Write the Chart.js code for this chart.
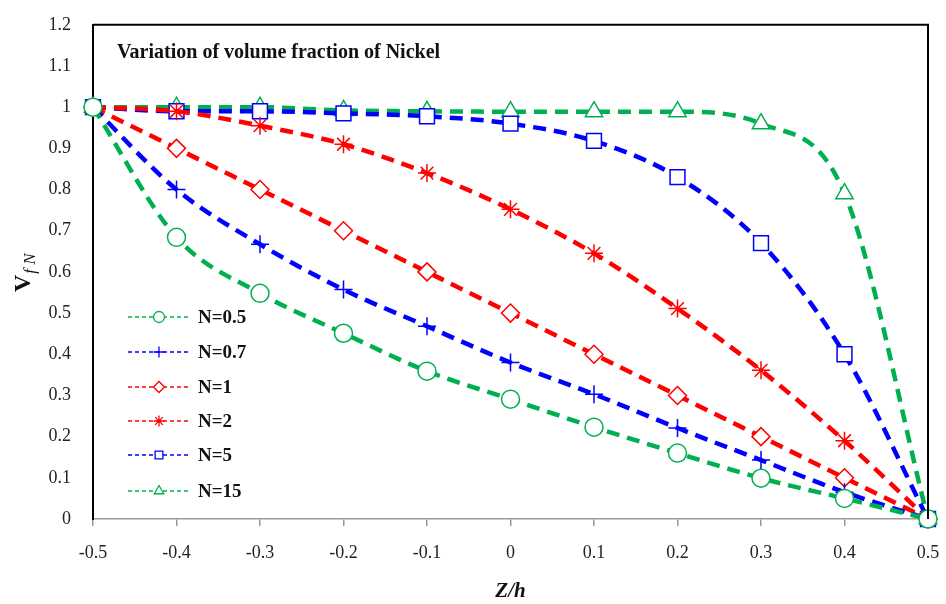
<!DOCTYPE html>
<html>
<head>
<meta charset="utf-8">
<script src="https://cdn.jsdelivr.net/npm/chart.js@4.4.1/dist/chart.umd.min.js"></script>
<style>
  html, body { margin: 0; padding: 0; background: #fff; }
  #wrap { width: 946px; height: 604px; }
</style>
</head>
<body>
<div id="wrap"><canvas id="vfChart" width="946" height="604"></canvas></div>
<script>
// positions through the thickness, z/h
const zh = [-0.5, -0.4, -0.3, -0.2, -0.1, 0, 0.1, 0.2, 0.3, 0.4, 0.5];

// volume fraction of nickel
const vN05 = [1, 0.684, 0.548, 0.451, 0.359, 0.291, 0.223, 0.160, 0.099, 0.050, 0];
const vN07 = [1, 0.800, 0.667, 0.557, 0.468, 0.380, 0.303, 0.221, 0.143, 0.065, 0];
const vN1  = [1, 0.9, 0.8, 0.7, 0.6, 0.5, 0.4, 0.3, 0.2, 0.1, 0];
const vN2  = [1, 0.99, 0.955, 0.91, 0.84, 0.752, 0.645, 0.511, 0.361, 0.19, 0];
const vN5  = [1, 0.99, 0.99, 0.985, 0.978, 0.96, 0.918, 0.83, 0.67, 0.40, 0];
const vN15 = [1, 1.0, 1.0, 0.992, 0.99, 0.989, 0.989, 0.989, 0.96, 0.79, 0];

const seriesLabels = ['N=0.5', 'N=0.7', 'N=1', 'N=2', 'N=5', 'N=15'];

const GREEN = '#00b050';
const BLUE = '#0000ff';
const RED = '#ff0000';
const SERIF = '"Liberation Serif", "DejaVu Serif", serif';

function toPoints(vals) {
    return zh.map((z, i) => ({ x: z, y: vals[i] }));
}

function makeSet(label, vals, color, marker, radius) {
    return {
        label: label,
        data: toPoints(vals),
        borderColor: color,
        borderWidth: 4.5,
        borderDash: [13, 8],
        pointStyle: marker,
        pointRadius: radius,
        pointHoverRadius: radius,
        pointBorderColor: color,
        pointBackgroundColor: '#fff',
        pointBorderWidth: 1.5,
        cubicInterpolationMode: 'monotone',
        fill: false,
        clip: false
    };
}

// frame on top + right of the plot area
const framePlugin = {
    id: 'frame',
    afterDraw(chart) {
        const { ctx, chartArea: a } = chart;
        ctx.save();
        ctx.strokeStyle = '#000';
        ctx.lineWidth = 2;
        ctx.beginPath();
        ctx.moveTo(a.left, a.top);
        ctx.lineTo(a.right, a.top);
        ctx.lineTo(a.right, a.bottom);
        ctx.stroke();
        ctx.restore();
    }
};

// title inside plot, y axis label with subscript, and the line+marker legend
const textPlugin = {
    id: 'texts',
    afterDraw(chart) {
        const ctx = chart.ctx;
        ctx.save();
        ctx.fillStyle = '#111';
        ctx.font = 'bold 20px ' + SERIF;
        ctx.textBaseline = 'middle';
        ctx.textAlign = 'left';
        ctx.fillText('Variation of volume fraction of Nickel', 117, 53, 330);

        // V_fN rotated
        ctx.save();
        ctx.translate(30, 270);
        ctx.rotate(-Math.PI / 2);
        ctx.textBaseline = 'alphabetic';
        ctx.font = 'bold 24px ' + SERIF;
        const vw = ctx.measureText('V').width;
        ctx.fillText('V', -22, 0);
        ctx.font = 'italic 17px ' + SERIF;
        ctx.fillText('f N', -22 + vw + 1, 5);
        ctx.restore();

        // legend
        const rows = [317, 352, 387, 421, 455, 491];
        chart.data.datasets.forEach((ds, i) => {
            const y = rows[i];
            ctx.save();
            ctx.strokeStyle = ds.borderColor;
            ctx.lineWidth = 1.5;
            ctx.setLineDash([4, 3]);
            ctx.beginPath();
            ctx.moveTo(128, y);
            ctx.lineTo(191, y);
            ctx.stroke();
            ctx.setLineDash([]);
            ctx.fillStyle = '#fff';
            ctx.strokeStyle = ds.borderColor;
            ctx.lineWidth = 1.3;
            Chart.helpers.drawPoint(ctx, { pointStyle: ds.pointStyle, radius: 5.5, rotation: 0, borderWidth: 1.3 }, 159, y);
            ctx.restore();
            ctx.fillStyle = '#111';
            ctx.font = 'bold 19px ' + SERIF;
            ctx.textBaseline = 'middle';
            ctx.fillText(ds.label, 198, y + 1);
        });
        ctx.restore();
    }
};

function fmt(v) {
    return String(Number(v.toFixed(1)));
}

const ctx = document.getElementById('vfChart').getContext('2d');
const vfChart = new Chart(ctx, {
    type: 'line',
    data: {
        datasets: [
            makeSet(seriesLabels[0], vN05, GREEN, 'circle', 9),
            makeSet(seriesLabels[1], vN07, BLUE, 'cross', 9),
            makeSet(seriesLabels[2], vN1, RED, 'rectRot', 9),
            makeSet(seriesLabels[3], vN2, RED, 'star', 9),
            makeSet(seriesLabels[4], vN5, BLUE, 'rect', 10.5),
            makeSet(seriesLabels[5], vN15, GREEN, 'triangle', 10)
        ]
    },
    options: {
        responsive: false,
        animation: false,
        events: [],
        layout: { padding: { left: 0, right: 18, top: 16, bottom: 0 } },
        plugins: {
            legend: { display: false },
            tooltip: { enabled: false }
        },
        scales: {
            x: {
                type: 'linear',
                min: -0.5,
                max: 0.5,
                afterFit(scale) {
                    scale.height = 85;
                    scale.paddingLeft = 0;
                    scale.paddingRight = 0;
                },
                grid: { drawOnChartArea: false, drawTicks: true, tickLength: 7, color: '#999', lineWidth: 1.5 },
                border: { display: true, color: '#999', width: 1.5 },
                ticks: {
                    stepSize: 0.1,
                    padding: 16,
                    maxRotation: 0,
                    color: '#222',
                    font: { family: SERIF, size: 18 },
                    callback: (v) => fmt(v)
                },
                title: {
                    display: true,
                    text: 'Z/h',
                    color: '#111',
                    padding: { top: 0, bottom: 0 },
                    font: { family: SERIF, size: 21, style: 'italic', weight: 'bold' }
                }
            },
            y: {
                min: 0,
                max: 1.2,
                afterFit(scale) { scale.width = 93; },
                grid: { display: false },
                border: { display: true, color: '#000', width: 2 },
                ticks: {
                    stepSize: 0.1,
                    padding: 14,
                    color: '#222',
                    font: { family: SERIF, size: 18 },
                    callback: (v) => fmt(v)
                }
            }
        }
    },
    plugins: [framePlugin, textPlugin]
});
</script>
</body>
</html>
